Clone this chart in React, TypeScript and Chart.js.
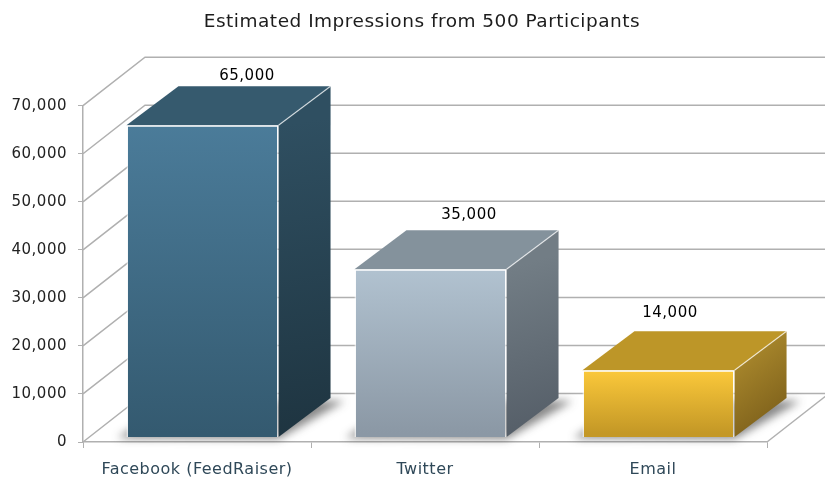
import React, { useEffect, useRef } from "react";
import { Chart, registerables } from "chart.js";

Chart.register(...registerables);

const categories = ["Facebook (FeedRaiser)", "Twitter", "Email"];
const impressions = [65000, 35000, 14000];
const yTicksMax = 70000;
const yTicksStep = 10000;
const chartTitle = "Estimated Impressions from 500 Participants";

const frontTop = ["#4b7c9a", "#b2c3d1", "#ffcc3c"];
const frontBottom = ["#345a70", "#8b98a5", "#c49826"];
const topFace = ["#365a6e", "#84929c", "#bd9628"];
const sideStart = ["#2f4f61", "#727d85", "#a4832a"];
const sideEnd = ["#1e3440", "#535c66", "#735717"];
const labelShift = [[50, -54], [44, -59], [17, -62]];

const FONT = "'DejaVu Sans', sans-serif";
const GRID = "#b0b0b0";
const WALL = { dx: 62, dy: -48.5 };
const DEPTH = { dx: 52, dy: -39 };
const INSET = { dx: 5.5, dy: -4.5 };

const box3d = {
  id: "box3d",
  beforeDraw(chart: any) {
    chart.ctx.letterSpacing = "0.5px";
    if (chart.titleBlock) {
      chart.titleBlock.left = 19;
      chart.titleBlock.right = chart.width;
    }
  },
  beforeDatasetsDraw(chart: any) {
    const { ctx, scales, chartArea } = chart;
    const y = scales.y;
    ctx.save();
    ctx.strokeStyle = GRID;
    ctx.lineWidth = 1.5;
    for (const t of y.ticks) {
      const py = y.getPixelForValue(t.value);
      ctx.beginPath();
      ctx.moveTo(chartArea.left, py);
      ctx.lineTo(chartArea.left + WALL.dx, py + WALL.dy);
      ctx.lineTo(chart.width, py + WALL.dy);
      ctx.stroke();
    }
    ctx.beginPath();
    ctx.moveTo(chartArea.right, chartArea.bottom);
    ctx.lineTo(chartArea.right + WALL.dx, chartArea.bottom + WALL.dy);
    ctx.stroke();
    ctx.restore();
  },
  beforeDatasetDraw(chart: any, args: any) {
    const { ctx } = chart;
    const meta = args.meta;
    meta.data.forEach((el: any, i: number) => {
      const l = el.x - el.width / 2 + INSET.dx;
      const r = el.x + el.width / 2 + INSET.dx;
      const t = el.y + INSET.dy;
      const b = el.base + INSET.dy;
      ctx.save();
      // floor shadow
      ctx.save();
      ctx.filter = "blur(4px)";
      ctx.fillStyle = "rgba(40,40,40,0.55)";
      ctx.beginPath();
      ctx.moveTo(l - 9, b + 1);
      ctx.lineTo(r, b + 2);
      ctx.lineTo(r + DEPTH.dx + 14, b + DEPTH.dy + 3);
      ctx.lineTo(l + DEPTH.dx, b + DEPTH.dy);
      ctx.closePath();
      ctx.fill();
      ctx.restore();
      // side
      const sg = ctx.createLinearGradient(r, t, r + DEPTH.dx, b);
      sg.addColorStop(0, sideStart[i]);
      sg.addColorStop(1, sideEnd[i]);
      ctx.fillStyle = sg;
      ctx.beginPath();
      ctx.moveTo(r, t);
      ctx.lineTo(r + DEPTH.dx, t + DEPTH.dy);
      ctx.lineTo(r + DEPTH.dx, b + DEPTH.dy);
      ctx.lineTo(r, b);
      ctx.closePath();
      ctx.fill();
      // top
      ctx.fillStyle = topFace[i];
      ctx.beginPath();
      ctx.moveTo(l, t);
      ctx.lineTo(l + DEPTH.dx, t + DEPTH.dy);
      ctx.lineTo(r + DEPTH.dx, t + DEPTH.dy);
      ctx.lineTo(r, t);
      ctx.closePath();
      ctx.fill();
      ctx.strokeStyle = "rgba(255,255,255,0.7)";
      ctx.lineWidth = 1.2;
      ctx.beginPath();
      ctx.moveTo(r, t);
      ctx.lineTo(r + DEPTH.dx, t + DEPTH.dy);
      ctx.stroke();
      ctx.restore();
    });
    ctx.save();
    ctx.translate(INSET.dx, INSET.dy);
  },
  afterDatasetDraw(chart: any) {
    chart.ctx.restore();
  },
  afterDatasetsDraw(chart: any) {
    const { ctx } = chart;
    const meta = chart.getDatasetMeta(0);
    ctx.save();
    ctx.font = `15px ${FONT}`;
    ctx.fillStyle = "#000";
    ctx.textAlign = "center";
    ctx.textBaseline = "middle";
    meta.data.forEach((el: any, i: number) => {
      ctx.fillText(
        impressions[i].toLocaleString("en-US"),
        el.x + labelShift[i][0],
        el.y + labelShift[i][1]
      );
    });
    ctx.restore();
  },
};

export default function App() {
  const ref = useRef<HTMLCanvasElement>(null);
  useEffect(() => {
    const chart = new Chart(ref.current!, {
      type: "bar",
      data: {
        labels: categories,
        datasets: [
          {
            data: impressions,
            categoryPercentage: 1,
            barPercentage: 0.667,
            borderWidth: 1.5,
            borderColor: "rgba(255,255,255,0.65)",
            clip: false,
            backgroundColor: (c: any) => {
              const i = c.dataIndex;
              if (i === undefined || !c.chart.chartArea) return "#888";
              const y = c.chart.scales.y;
              const g = c.chart.ctx.createLinearGradient(
                0,
                y.getPixelForValue(impressions[i]) - 4.5,
                0,
                y.getPixelForValue(0) - 4.5
              );
              g.addColorStop(0, frontTop[i]);
              g.addColorStop(1, frontBottom[i]);
              return g;
            },
          },
        ],
      } as any,
      options: {
        responsive: false,
        animation: false,
        layout: { padding: { left: 0, right: 58, top: 0, bottom: 0 } },
        plugins: {
          legend: { display: false },
          tooltip: { enabled: false },
          title: {
            display: true,
            text: chartTitle,
            color: "#1c1c1c",
            font: { family: FONT, size: 18.5, weight: "normal" },
            padding: { top: 11, bottom: 72.5 },
          },
        },
        scales: {
          x: {
            afterFit: (s: any) => {
              s.height = 36;
            },
            grid: { drawOnChartArea: false, drawTicks: true, tickLength: 6, color: GRID, offset: true },
            border: { color: GRID, width: 1.5 },
            ticks: { color: "#2f4858", font: { family: FONT, size: 16 }, padding: 12, maxRotation: 0 },
          },
          y: {
            min: 0,
            max: yTicksMax,
            afterFit: (s: any) => {
              s.width = 83;
            },
            grid: { drawOnChartArea: false, drawTicks: true, tickLength: 5, color: GRID },
            border: { color: GRID, width: 1.5 },
            ticks: { stepSize: yTicksStep, color: "#222", font: { family: FONT, size: 15 }, padding: 11 },
          },
        },
      } as any,
      plugins: [box3d],
    });
    return () => chart.destroy();
  }, []);
  return (
    <div style={{ position: "absolute", left: 0, top: 0, width: 825, height: 478, background: "#fff" }}>
      <canvas ref={ref} width={825} height={478} style={{ display: "block" }} />
    </div>
  );
}
